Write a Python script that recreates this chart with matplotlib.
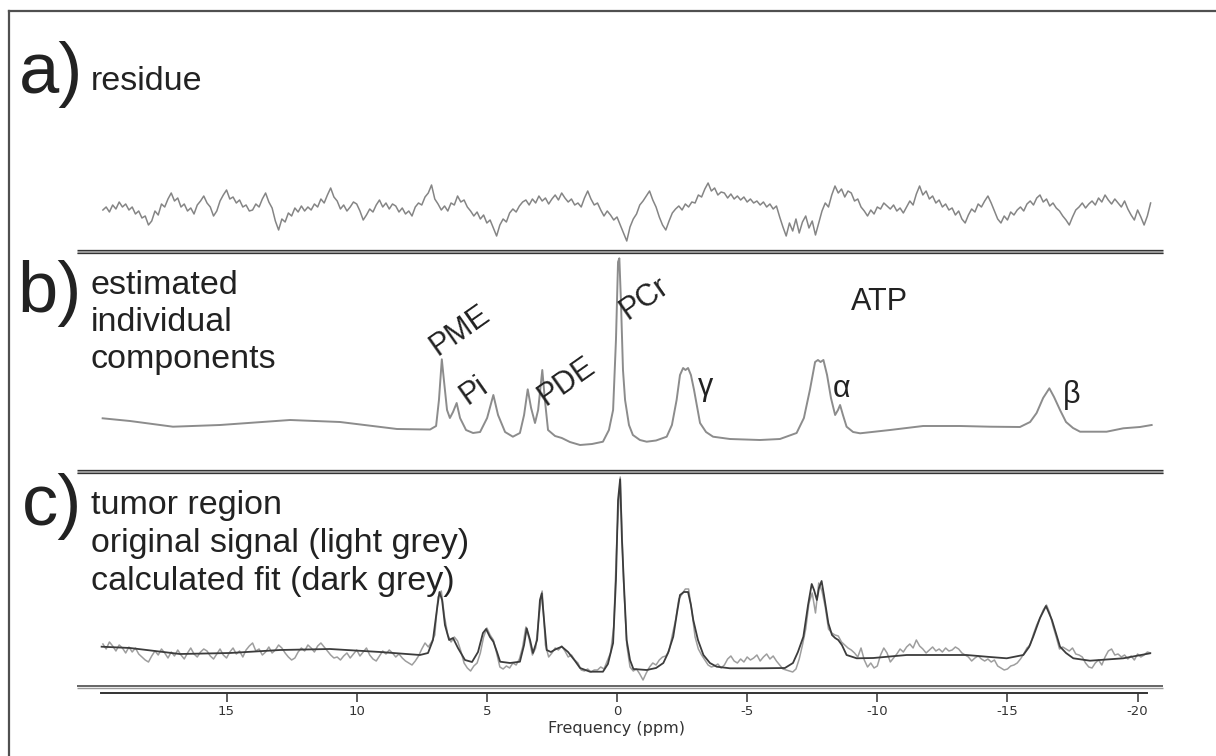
import matplotlib
matplotlib.use('Agg')
import matplotlib.pyplot as plt
from matplotlib.lines import Line2D
import numpy as np

W, H = 1216, 756
# shared ppm scale in pixels: 0 ppm at x=617, 26.03 px per ppm
X0, X1 = 101, 1147
PPM_LEFT = (617 - X0) / 26.03
PPM_RIGHT = (617 - X1) / 26.03

# ---- data ----
# noisy traces sampled every 0.125 ppm from 19.75 down to -20.5
grid_start = 19.75
grid_step = 0.125

residue = [
    3, 6, 1, 8, 4, 11, 6, 9,
    3, 6, -1, 2, -5, -3, -12, -8,
    2, -2, 9, 6, 14, 20, 12, 15,
    6, 9, 2, 5, -1, 8, 12, 17,
    10, 6, -3, 2, 12, 18, 23, 14,
    16, 10, 13, 6, 8, 2, 3, 9,
    6, 14, 20, 11, 5, -8, -17, -6,
    -9, 0, -3, 5, 1, 7, 2, 6,
    3, 9, 6, 14, 10, 18, 25, 16,
    12, 4, 8, 2, 6, 11, 9, 2,
    -7, -2, 4, 1, 8, 13, 6, 10,
    4, 9, 7, 1, 5, -1, 2, -3,
    6, 10, 8, 16, 20, 28, 14, 9,
    3, 7, 2, 10, 8, 17, 11, 13,
    6, 2, -3, 1, -6, -2, -10, -7,
    -15, -23, -12, -6, -9, 0, 4, 1,
    7, 11, 13, 8, 14, 10, 17, 12,
    15, 9, 14, 18, 13, 20, 15, 11,
    14, 8, 10, 6, 15, 22, 14, 8,
    10, 3, -3, 2, -2, -7, -4, -12,
    -20, -28, -14, -6, -1, 8, 12, 17,
    22, 13, 6, -4, -12, -17, -8, 0,
    4, 7, 3, 9, 6, 11, 10, 18,
    16, 24, 30, 22, 25, 18, 21, 20,
    15, 19, 14, 17, 13, 16, 11, 14,
    10, 12, 8, 11, 6, 9, 4, 7,
    -4, -14, -23, -10, -18, -6, -20, -9,
    -3, -15, -8, -22, -10, 2, 10, 6,
    18, 27, 20, 24, 16, 22, 20, 12,
    14, 6, 2, -3, 3, -1, 6, 4,
    10, 7, 4, 8, 2, 5, 0, 6,
    12, 8, 19, 27, 18, 22, 14, 17,
    10, 13, 6, 9, 3, 5, -2, 2,
    -6, -10, -2, 4, 1, 9, 6, 12,
    17, 10, 2, -6, -10, -3, -7, 1,
    -2, 3, 6, 2, 9, 12, 8, 15,
    18, 11, 14, 7, 10, 5, 2, -3,
    -7, -12, -4, 3, 6, 10, 5, 9,
    12, 8, 15, 11, 18, 13, 9, 14,
    10, 6, 12, 4, -2, -7, 3, -4,
    -12, -3, 10,
]

original = [
    31, 26, 33, 29, 24, 30, 27, 22,
    28, 23, 27, 21, 18, 15, 13, 19,
    24, 20, 26, 22, 17, 23, 19, 25,
    20, 16, 22, 27, 21, 18, 23, 26,
    24, 19, 16, 21, 26, 20, 17, 23,
    27, 21, 24, 18, 25, 29, 32, 24,
    26, 20, 23, 28, 22, 25, 30, 27,
    22, 18, 15, 17, 23, 27, 24, 30,
    27, 23, 29, 32, 28, 24, 20, 17,
    18, 15, 19, 22, 17, 21, 25, 19,
    23, 27, 20, 16, 14, 19, 24, 21,
    25, 22, 18, 21, 17, 14, 12, 10,
    14, 19, 26, 32, 28, 33, 40, 78,
    84, 58, 40, 33, 38, 34, 24, 12,
    7, 4, 9, 12, 22, 38, 47, 40,
    35, 22, 8, 6, 9, 7, 12, 10,
    16, 28, 48, 36, 20, 27, 58, 84,
    30, 18, 22, 27, 25, 29, 24, 18,
    20, 15, 12, 5, 4, 6, 3, 5,
    5, 8, 6, 14, 22, 48, 140, 198,
    95, 30, 8, 4, 6, 1, -5, 2,
    8, 12, 10, 15, 18, 19, 24, 40,
    55, 76, 81, 86, 86, 64, 38, 26,
    20, 15, 10, 8, 9, 11, 7, 10,
    16, 19, 14, 12, 16, 13, 18, 15,
    17, 20, 14, 18, 21, 16, 19, 14,
    10, 6, 5, 4, 3, 6, 16, 30,
    46, 72, 82, 62, 92, 84, 68, 46,
    42, 40, 39, 33, 30, 27, 25, 22,
    18, 27, 15, 8, 12, 7, 9, 20,
    27, 22, 13, 17, 21, 26, 23, 28,
    31, 27, 35, 29, 26, 22, 25, 28,
    24, 26, 23, 27, 24, 25, 28, 26,
    22, 20, 18, 14, 17, 19, 16, 14,
    16, 13, 15, 9, 7, 5, 6, 9,
    10, 12, 16, 21, 27, 30, 41, 50,
    57, 65, 70, 62, 49, 38, 26, 28,
    26, 24, 27, 21, 20, 18, 12, 8,
    7, 12, 15, 10, 18, 24, 26, 20,
    21, 18, 20, 16, 19, 15, 21, 18,
    20, 23, 22,
]

# b) estimated components (ppm, intensity)
comp_ppm = [19.76, 18.71, 17.06, 15.25, 12.56, 10.64, 8.45, 7.18, 6.95, 6.84,
            6.73, 6.65, 6.53, 6.42, 6.30, 6.16, 6.03, 5.80, 5.53, 5.26,
            4.99, 4.75, 4.57, 4.30, 4.00, 3.73, 3.57, 3.43, 3.30, 3.15,
            3.03, 2.87, 2.77, 2.65, 2.38, 2.12, 1.81, 1.42, 0.96, 0.54,
            0.31, 0.15, 0.04, -0.04, -0.09, -0.15, -0.23, -0.31, -0.46, -0.61,
            -0.88, -1.14, -1.50, -1.91, -2.11, -2.29, -2.42, -2.54, -2.63, -2.73,
            -2.84, -2.96, -3.19, -3.42, -3.69, -4.34, -5.49, -6.26, -6.90, -7.18,
            -7.41, -7.61, -7.72, -7.82, -7.93, -8.07, -8.22, -8.38, -8.49, -8.57,
            -8.68, -8.82, -9.07, -9.34, -10.49, -11.76, -13.18, -14.33, -15.48, -15.87,
            -16.12, -16.37, -16.61, -16.79, -17.02, -17.25, -17.52, -17.79, -18.81, -19.45,
            -20.09, -20.54]
comp_int = [26.7, 24, 18.3, 20, 25, 23, 16, 15.5, 19, 45,
            85.7, 65, 35, 27, 33, 42, 27, 15, 12, 13,
            27, 50, 30, 13, 8.3, 12, 30, 55.7, 37, 22,
            35, 75, 45, 15, 9, 7, 3, 0, 1, 3.3,
            15, 35, 105, 183, 186.7, 145, 75, 45, 20, 10,
            5, 3.3, 4.5, 8.3, 20, 45, 70, 77, 75, 77,
            70, 55, 22, 13, 8.3, 6, 5, 6, 12, 27,
            55, 83, 85, 83, 85, 70, 47, 30, 35, 40,
            30, 18.3, 13, 11.7, 15, 19, 19, 18.3, 18, 23,
            32, 47, 56.7, 48, 35, 23, 17, 13.3, 13.3, 16.7,
            18, 20]

# c) calculated fit (ppm, intensity)
fit_ppm = [19.80, 18.71, 16.79, 14.87, 12.95, 11.03, 9.10, 7.57, 7.26, 7.07,
           6.92, 6.82, 6.72, 6.61, 6.45, 6.30, 6.11, 5.84, 5.57, 5.34,
           5.15, 5.03, 4.88, 4.75, 4.61, 4.49, 4.11, 3.73, 3.57, 3.47,
           3.34, 3.23, 3.07, 2.96, 2.89, 2.82, 2.70, 2.54, 2.34, 2.12,
           1.88, 1.61, 1.42, 1.04, 0.54, 0.35, 0.15, 0.04, -0.04, -0.12,
           -0.19, -0.27, -0.37, -0.50, -0.63, -1.14, -1.50, -1.78, -1.96, -2.16,
           -2.31, -2.42, -2.57, -2.73, -2.84, -2.93, -3.11, -3.32, -3.57, -3.83,
           -4.34, -5.49, -6.45, -6.76, -6.95, -7.16, -7.34, -7.48, -7.57, -7.68,
           -7.76, -7.86, -7.95, -8.12, -8.26, -8.38, -8.50, -8.64, -8.82, -9.21,
           -9.85, -11.13, -12.41, -13.43, -14.33, -14.97, -15.61, -15.83, -15.99, -16.25,
           -16.48, -16.71, -17.02, -17.25, -17.53, -18.17, -19.45, -20.48]
fit_int = [28.3, 27, 21, 22, 25, 26, 23, 20, 22, 35,
           65, 83, 75, 50, 35, 37, 27, 15, 13, 23,
           42, 46, 38, 33.3, 23, 13.3, 12, 13.3, 30, 46.7,
           35, 22, 35, 75, 81.7, 60, 25, 23, 26, 28.3,
           23, 14, 7, 3.3, 3.3, 11, 32, 95, 175, 195.7,
           135, 88.3, 35, 15, 6, 5, 7, 12, 22, 38.3,
           63, 80, 83, 83, 70, 55, 35, 20, 12, 8.3,
           6.7, 6.7, 7, 12, 23, 38.3, 70, 91, 85, 75,
           87, 94, 80, 51.7, 40, 37, 35, 30, 20, 16.7,
           17, 20, 20, 20, 18, 16.7, 20, 28, 38.3, 57,
           69, 55, 28.3, 22, 16.7, 14.3, 16.7, 21.7]

tick_pos = [15, 10, 5, 0, -5, -10, -15, -20]
tick_labels = ['15', '10', '5', '0', '-5', '-10', '-15', '-20']

peak_labels = ['PME', 'Pi', 'PDE', 'PCr']
atp_labels = ['ATP', 'γ', 'α', 'β']

# sampling axis of the noisy traces
grid = grid_start - grid_step * np.arange(len(residue))

# ---- figure ----
fig = plt.figure(figsize=(W / 100, H / 100), dpi=100)
fig.patch.set_facecolor('white')
TXT = '#222222'
FONT = 'Liberation Sans'


def px_axes(x0, y0, x1, y1):
    ax = fig.add_axes([x0 / W, 1 - y1 / H, (x1 - x0) / W, (y1 - y0) / H])
    ax.set_xlim(PPM_LEFT, PPM_RIGHT)
    ax.patch.set_visible(False)
    return ax


def hline(y, x0, x1, color, lw):
    fig.add_artist(Line2D([x0 / W, x1 / W], [1 - y / H, 1 - y / H],
                          color=color, lw=lw * 0.72, solid_capstyle='butt'))


def label(x, y, s, size, **kw):
    fig.text(x / W, 1 - y / H, s, fontsize=size, family=FONT, color=TXT,
             va='baseline', **kw)


# outer frame (top and left edges are inside the picture)
fig.add_artist(Line2D([9 / W, 9 / W], [1 - 11 / H, 0], color='#505050', lw=1.6))
fig.add_artist(Line2D([9 / W, 1], [1 - 11 / H, 1 - 11 / H], color='#505050', lw=1.6))

# panel separators (double lines)
for y in (250, 470):
    hline(y + 1.8, 77, 1163, '#a8a8a8', 3.0)
    hline(y + 0.4, 77, 1163, '#333333', 1.3)
    hline(y + 3.2, 77, 1163, '#333333', 1.3)
hline(686.0, 77, 1163, '#444444', 1.6)
hline(688.0, 77, 1163, '#9a9a9a', 1.4)

# a) residue
ax_a = px_axes(X0, 150, X1, 250)
ax_a.set_ylim(-37, 63)
ax_a.plot(grid, residue, color='#858585', lw=1.1, clip_on=False)
ax_a.axis('off')

# b) estimated individual components
ax_b = px_axes(X0, 254, X1, 470)
ax_b.set_ylim(-25, 191)
ax_b.plot(comp_ppm, comp_int, color='#8c8c8c', lw=1.4, clip_on=False)
ax_b.axis('off')

# c) original signal and fit
ax_c = px_axes(X0, 474, X1, 686)
ax_c.set_ylim(-11, 201)
ax_c.plot(grid, original, color='#9e9e9e', lw=1.1, clip_on=False)
ax_c.plot(fit_ppm, fit_int, color='#3c3c3c', lw=1.3, clip_on=False)
ax_c.axis('off')

# frequency axis
ax_t = px_axes(X0, 692, X1, 693)
ax_t.set_ylim(0, 1)
for s in ('top', 'left', 'right'):
    ax_t.spines[s].set_visible(False)
ax_t.spines['bottom'].set_color('#333333')
ax_t.spines['bottom'].set_linewidth(1.4)
ax_t.set_yticks([])
ax_t.set_xticks(tick_pos)
ax_t.set_xticklabels(tick_labels)
ax_t.tick_params(axis='x', direction='out', length=6.5, width=1.1, pad=2,
                 labelsize=9.5, colors='#333333')
fig.text(617 / W, 1 - 733 / H, 'Frequency (ppm)', fontsize=11.5,
         family='DejaVu Sans', color='#333333', ha='center', va='baseline')

# panel letters and captions
label(19, 93, 'a)', 52)
label(91, 90, 'residue', 24.5)
label(17, 312, 'b)', 52)
label(91, 294, 'estimated', 24.5)
label(91, 331, 'individual', 24.5)
label(91, 368, 'components', 24.5)
label(22, 525, 'c)', 52)
label(91, 514, 'tumor region', 24.5)
label(91, 552, 'original signal (light grey)', 24.5)
label(91, 590, 'calculated fit (dark grey)', 24.5)

# peak names
for s, (x, y) in zip(peak_labels, [(438, 356), (468, 405), (546, 406), (627, 320)]):
    label(x, y, s, 22, rotation=35, rotation_mode='anchor', ha='left')
for s, (x, y) in zip(atp_labels, [(851, 310), (698, 395), (833, 397), (1063, 403)]):
    label(x, y, s, 22, ha='left')

fig.savefig('out.png', dpi=100, facecolor='white')
